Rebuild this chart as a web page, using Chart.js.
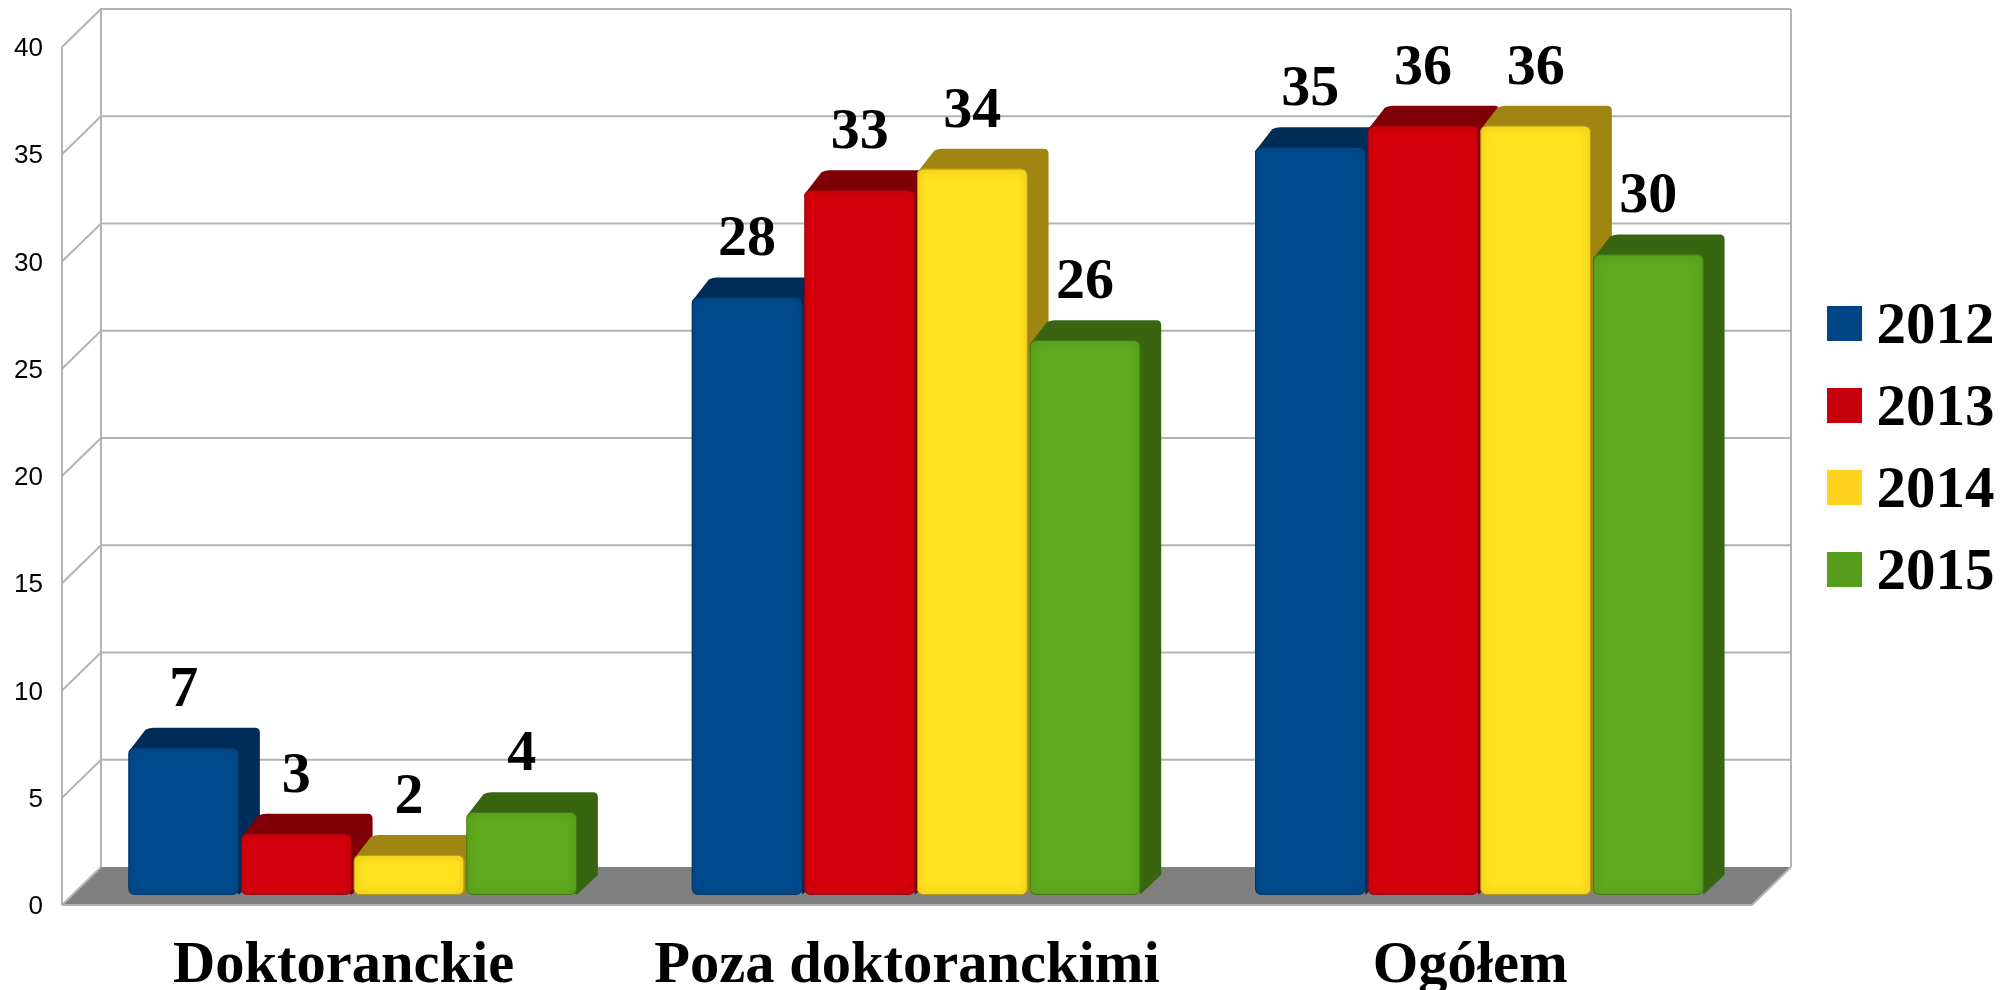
<!DOCTYPE html>
<html><head><meta charset="utf-8">
<style>html,body{margin:0;padding:0;background:#fff}#w{width:2016px;height:990px}</style>
<script src="https://cdn.jsdelivr.net/npm/chart.js@4"></script>
</head><body><div id="w"><canvas id="c"></canvas></div>
<script>
const categories = ['Doktoranckie', 'Poza doktoranckimi', 'Ogółem'];
const years = ['2012', '2013', '2014', '2015'];
const values2012 = [7, 28, 35];
const values2013 = [3, 33, 36];
const values2014 = [2, 34, 36];
const values2015 = [4, 26, 30];
const yTicks = [0, 5, 10, 15, 20, 25, 30, 35, 40];
const allValues = [values2012, values2013, values2014, values2015];

const frontColors = ['#004b8d', '#d5000d', '#ffe320', '#5fa91e'];
const topColors = ['#002d58', '#7f0007', '#a08512', '#386510'];
const edgeColors = ['#00305f', '#8a0008', '#a88a10', '#3a6e12'];
const legendColors = ['#004586', '#c5000b', '#ffd320', '#579d1c'];

const SERIF = '"Liberation Serif"';
const SANS = '"Liberation Sans"';
const WALL = {dx: 39, dy: -38};
const BAR = {dx: 9, dy: -7, depthX: 21, depthY: 20};
const GRID = '#b3b3b3';

function swatch(color) {
  const cv = document.createElement('canvas');
  cv.width = 35; cv.height = 43;
  const g = cv.getContext('2d');
  g.fillStyle = color; g.fillRect(0, 0, 35, 35);
  return cv;
}
function rr(ctx, x, y, w, h, r) {
  ctx.beginPath(); ctx.roundRect(x, y, w, h, r);
}
function drawDepth(chart, meta, i) {
  const {ctx} = chart;
  meta.data.forEach(el => {
    const {x, y, base, width} = el.getProps(['x', 'y', 'base', 'width'], true);
    const l = x - width / 2, r = x + width / 2;
    const dx = BAR.depthX, dy = BAR.depthY;
    ctx.fillStyle = topColors[i];
    ctx.beginPath();
    ctx.moveTo(l, y + 4);
    ctx.lineTo(l + dx - 4, y - dy + 2);
    ctx.quadraticCurveTo(l + dx, y - dy, l + dx + 4, y - dy);
    ctx.lineTo(r + dx - 5, y - dy);
    ctx.quadraticCurveTo(r + dx, y - dy, r + dx, y - dy + 5);
    ctx.lineTo(r + dx, base - dy);
    ctx.lineTo(r, base);
    ctx.closePath();
    ctx.fill();
  });
}
function drawBevel(chart, meta, i) {
  const {ctx} = chart;
  meta.data.forEach(el => {
    const {x, y, base, width} = el.getProps(['x', 'y', 'base', 'width'], true);
    const l = x - width / 2, w = width, h = base - y;
    ctx.save();
    rr(ctx, l, y, w, h, 6); ctx.clip();
    ctx.shadowColor = edgeColors[i]; ctx.shadowBlur = 8;
    ctx.strokeStyle = edgeColors[i]; ctx.lineWidth = 1.5;
    rr(ctx, l, y, w, h, 6); ctx.stroke();
    ctx.restore();
  });
}

const stage = {
  id: 'stage',
  beforeDatasetsDraw(chart) {
    const {ctx, chartArea: a, scales: {y}} = chart;
    const L = a.left, R = a.right, B = y.getPixelForValue(0);
    ctx.save();
    ctx.lineWidth = 2; ctx.strokeStyle = GRID;
    ctx.fillStyle = '#808080';
    ctx.beginPath();
    ctx.moveTo(L, B); ctx.lineTo(R, B);
    ctx.lineTo(R + WALL.dx, B + WALL.dy); ctx.lineTo(L + WALL.dx, B + WALL.dy);
    ctx.closePath(); ctx.fill();
    ctx.beginPath();
    ctx.moveTo(L, B); ctx.lineTo(R, B); ctx.lineTo(R + WALL.dx, B + WALL.dy); ctx.stroke();
    yTicks.forEach(v => {
      const p = y.getPixelForValue(v);
      ctx.beginPath();
      ctx.moveTo(L, p); ctx.lineTo(L + WALL.dx, p + WALL.dy);
      if (v > 0) ctx.lineTo(R + WALL.dx, p + WALL.dy);
      ctx.stroke();
    });
    const t = y.getPixelForValue(40);
    ctx.beginPath();
    ctx.moveTo(L, t); ctx.lineTo(L, B);
    ctx.moveTo(L + WALL.dx, t + WALL.dy); ctx.lineTo(L + WALL.dx, B + WALL.dy);
    ctx.moveTo(R + WALL.dx, t + WALL.dy); ctx.lineTo(R + WALL.dx, B + WALL.dy);
    ctx.stroke();
    ctx.restore();

    // series are painted 2012 first, so each later bar covers the side face of the one before it
    ctx.save();
    ctx.translate(BAR.dx, BAR.dy);
    years.forEach((_, i) => {
      const meta = chart.getDatasetMeta(i);
      drawDepth(chart, meta, i);
      meta.controller.draw();
      drawBevel(chart, meta, i);
    });
    ctx.restore();
  },
  beforeDatasetDraw() { return false; },
  afterDatasetsDraw(chart) {
    const {ctx} = chart;
    ctx.save();
    ctx.font = 'bold 58px ' + SERIF;
    ctx.fillStyle = '#000';
    ctx.textAlign = 'center'; ctx.textBaseline = 'middle';
    chart.data.datasets.forEach((ds, i) => {
      chart.getDatasetMeta(i).data.forEach((el, j) => {
        ctx.fillText(String(ds.data[j]), el.x + BAR.dx, el.y + BAR.dy - 57);
      });
    });
    ctx.restore();
  },
  afterLayout(chart) {
    const lg = chart.legend;
    lg.left = 1819; lg.top = 275; lg.right = 2016; lg.bottom = 640;
  }
};

new Chart(document.getElementById('c'), {
  type: 'bar',
  data: {
    labels: categories,
    datasets: years.map((yr, i) => ({
      label: yr,
      data: allValues[i],
      backgroundColor: frontColors[i],
      borderWidth: 0,
      borderRadius: 6,
      borderSkipped: false,
      base: 0.15
    }))
  },
  plugins: [stage],
  options: {
    responsive: true,
    maintainAspectRatio: false,
    animation: false,
    layout: {padding: {left: 0, right: 264, top: 47, bottom: 0}},
    datasets: {bar: {categoryPercentage: 0.8, barPercentage: 0.98}},
    scales: {
      x: {
        grid: {display: false, drawTicks: false},
        border: {display: false},
        ticks: {
          font: {family: SERIF, size: 58.5, weight: 'bold'}, color: '#000',
          padding: 27, maxRotation: 0, autoSkip: false
        },
        afterFit(s) { s.height = 85; }
      },
      y: {
        min: 0, max: 40,
        grid: {display: false, drawTicks: false},
        border: {display: false},
        afterBuildTicks(s) { s.ticks = yTicks.map(v => ({value: v})); },
        ticks: {font: {family: SANS, size: 26}, color: '#000', padding: 19},
        afterFit(s) { s.width = 62; },
        afterUpdate(s) {
          const drawLabels = s.drawLabels;
          s.drawLabels = function (area) {
            s.ctx.save(); s.ctx.translate(0, 1);
            drawLabels.call(s, area);
            s.ctx.restore();
          };
        }
      }
    },
    plugins: {
      tooltip: {enabled: false},
      legend: {
        position: 'chartArea',
        align: 'start',
        labels: {
          font: {family: SERIF, size: 59, weight: 'bold'}, color: '#000',
          usePointStyle: true, pointStyleWidth: 5, boxHeight: 35, padding: 23,
          generateLabels(chart) {
            return chart.data.datasets.map((d, i) => ({
              text: d.label, datasetIndex: i, fontColor: '#000', hidden: false,
              lineWidth: 0, strokeStyle: 'transparent', fillStyle: legendColors[i],
              pointStyle: swatch(legendColors[i])
            }));
          }
        }
      }
    }
  }
});
</script></body></html>
